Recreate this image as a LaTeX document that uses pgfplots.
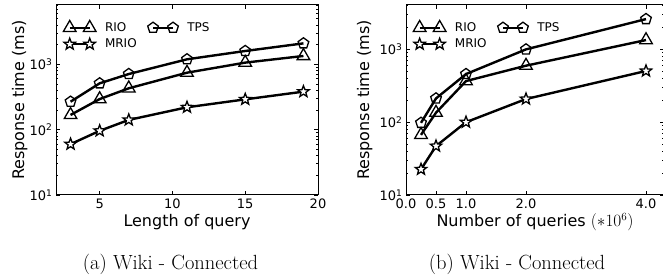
\documentclass[border=0pt]{standalone}
\usepackage{fontspec}
\setsansfont{DejaVu Sans}
\usepackage{pgfplots}
\pgfplotsset{compat=1.18}
\usetikzlibrary{plotmarks}

\pgfdeclareplotmark{fstar}{%
 \pgfpathmoveto{\pgfqpointpolar{90}{\pgfplotmarksize}}%
 \pgfpathlineto{\pgfqpointpolar{126}{0.42\pgfplotmarksize}}%
 \pgfpathlineto{\pgfqpointpolar{162}{\pgfplotmarksize}}%
 \pgfpathlineto{\pgfqpointpolar{198}{0.42\pgfplotmarksize}}%
 \pgfpathlineto{\pgfqpointpolar{234}{\pgfplotmarksize}}%
 \pgfpathlineto{\pgfqpointpolar{270}{0.42\pgfplotmarksize}}%
 \pgfpathlineto{\pgfqpointpolar{306}{\pgfplotmarksize}}%
 \pgfpathlineto{\pgfqpointpolar{342}{0.42\pgfplotmarksize}}%
 \pgfpathlineto{\pgfqpointpolar{18}{\pgfplotmarksize}}%
 \pgfpathlineto{\pgfqpointpolar{54}{0.42\pgfplotmarksize}}%
 \pgfpathclose
 \pgfusepathqfillstroke}

\pgfplotsset{
 legend image code/.code={\draw[#1] plot coordinates {(0pt,0pt) (20pt,0pt)};},
 rio/.style={black, line width=2.4pt, mark=triangle, mark size=7.3pt, mark options={fill=white, line width=1.3pt, solid}},
 tps/.style={black, line width=2.4pt, mark=pentagon, mark size=5.6pt, mark options={fill=white, line width=1.3pt, solid}},
 mrio/.style={black, line width=2.4pt, mark=fstar, mark size=6pt, mark options={fill=white, line width=1.3pt, solid}},
}

\begin{document}
\begin{tikzpicture}
\path[use as bounding box] (0pt,0pt) rectangle (663pt,280pt);
\begin{axis}[ymode=log, scale only axis, height=190pt, ymin=10,
  tick label style={font=\sffamily\fontsize{13}{15}\selectfont},
  label style={font=\sffamily\fontsize{16}{19}\selectfont},
  major tick length=4pt, minor tick length=2pt,
  tick style={black, line width=0.8pt},
  axis line style={line width=1pt},
  ytick={10,100,1000},
  yticklabels={10\textsuperscript{1},10\textsuperscript{2},10\textsuperscript{3}},
  legend columns=2,
  legend cell align=left,
  legend style={draw=none, fill=none, anchor=north west, at={(0.016,0.93)},
    font=\sffamily\fontsize{12}{14}\selectfont, row sep=2pt,
    /tikz/every odd column/.append style={column sep=7pt},
    /tikz/every even column/.append style={column sep=9pt}},
  at={(56pt,85pt)}, anchor=south west,
  width=262pt, xmin=2, xmax=20, ymax=8100,
  minor ytick={20,30,40,50,60,70,80,90,200,300,400,500,600,700,800,900,2000,3000,4000,5000,6000,7000,8000},
  xtick={5,10,15,20}, xticklabels={5,10,15,20},
  xlabel={Length of query}, ylabel={Response time (ms)},
  xlabel style={at={(axis description cs:0.5,-0.168)}, anchor=base},
  ylabel style={at={(axis description cs:-0.122,0.5)}, anchor=base},
]
\addplot[rio] coordinates {(3,168)(5,294)(7,430)(11,745)(15,1062)(19,1343)};
\addlegendentry{RIO}
\addplot[tps] coordinates {(3,268)(5,512)(7,711)(11,1194)(15,1600)(19,2094)};
\addlegendentry{TPS}
\addplot[mrio] coordinates {(3,60)(5,96)(7,141)(11,220)(15,291)(19,382)};
\addlegendentry{MRIO}
\end{axis}
\begin{axis}[ymode=log, scale only axis, height=190pt, ymin=10,
  tick label style={font=\sffamily\fontsize{13}{15}\selectfont},
  label style={font=\sffamily\fontsize{16}{19}\selectfont},
  major tick length=4pt, minor tick length=2pt,
  tick style={black, line width=0.8pt},
  axis line style={line width=1pt},
  ytick={10,100,1000},
  yticklabels={10\textsuperscript{1},10\textsuperscript{2},10\textsuperscript{3}},
  legend columns=2,
  legend cell align=left,
  legend style={draw=none, fill=none, anchor=north west, at={(0.016,0.93)},
    font=\sffamily\fontsize{12}{14}\selectfont, row sep=2pt,
    /tikz/every odd column/.append style={column sep=7pt},
    /tikz/every even column/.append style={column sep=9pt}},
  at={(406pt,85pt)}, anchor=south west,
  width=258pt, xmin=0, xmax=4.3, ymax=4070,
  minor ytick={20,30,40,50,60,70,80,90,200,300,400,500,600,700,800,900,2000,3000,4000},
  xtick={0,0.5,1,2,4}, xticklabels={0.0,0.5,1.0,2.0,4.0},
  xlabel={Number of queries $(\ast10^{6})$}, ylabel={Response time (ms)},
  xlabel style={at={(axis description cs:0.5,-0.168)}, anchor=base},
  ylabel style={at={(axis description cs:-0.143,0.5)}, anchor=base},
]
\addplot[rio] coordinates {(0.25,67)(0.5,135)(1,367)(2,597)(4,1343)};
\addlegendentry{RIO}
\addplot[tps] coordinates {(0.25,98)(0.5,212)(1,458)(2,1000)(4,2606)};
\addlegendentry{TPS}
\addplot[mrio] coordinates {(0.25,22.5)(0.5,47)(1,100)(2,208)(4,505)};
\addlegendentry{MRIO}
\end{axis}
\node[anchor=base, font=\rmfamily\fontsize{20.5}{24}\selectfont] at (170.5pt,10pt) {(a) Wiki - Connected};
\node[anchor=base, font=\rmfamily\fontsize{20.5}{24}\selectfont] at (517pt,10pt) {(b) Wiki - Connected};
\end{tikzpicture}
\end{document}
